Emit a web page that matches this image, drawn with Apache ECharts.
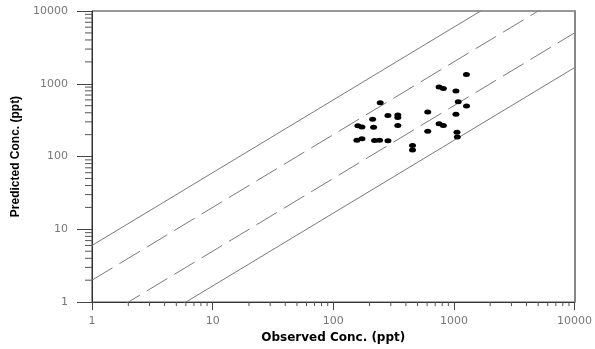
<!DOCTYPE html>
<html>
<head>
<meta charset="utf-8">
<script src="https://cdn.jsdelivr.net/npm/echarts@6/dist/echarts.min.js"></script>
<style>
  html, body { margin: 0; padding: 0; background: #fff; }
  #chart { width: 595px; height: 349px; }
</style>
</head>
<body>
<div id="chart"></div>
<script>
// observed vs predicted concentrations (ppt)
const observed = [245, 284, 343, 343, 212, 343, 160, 173, 216, 157, 173, 220, 242, 284, 454, 454,
                  1270, 754, 818, 1040, 1087, 1273, 607, 1040, 754, 818, 607, 1061, 1068];
const predicted = [548, 366, 373, 344, 326, 268, 265, 254, 252, 168, 175, 166, 168, 165, 142, 123,
                   1340, 900, 864, 797, 566, 494, 409, 381, 282, 268, 222, 216, 185];
// factor-of-6 (solid) and factor-of-2 (dashed) reference lines
const solidFactors = [6, 1 / 6];
const dashedFactors = [2, 0.5];
const axisRange = [1, 10000];
const minorTicks = [2, 3, 4, 5, 6, 7, 8, 9, 20, 30, 40, 50, 60, 70, 80, 90,
                    200, 300, 400, 500, 600, 700, 800, 900, 2000, 3000, 4000, 5000, 6000, 7000, 8000, 9000];

const chart = echarts.init(document.getElementById('chart'));

const ratioLine = (k, dashed) => ({
  type: 'line',
  data: [[axisRange[0], axisRange[0] * k], [axisRange[1], axisRange[1] * k]],
  symbol: 'none',
  silent: true,
  clip: true,
  lineStyle: { color: '#7a7a7a', width: 1, type: dashed ? [24, 8] : 'solid' },
  z: 1
});

const labelStyle = { color: '#777', fontFamily: 'DejaVu Sans', fontSize: 11 };

chart.setOption({
  animation: false,
  grid: { left: 92, right: 18, top: 11, bottom: 42, show: true, borderColor: '#333', borderWidth: 1 },
  xAxis: [{
    type: 'log', logBase: 10, min: axisRange[0], max: axisRange[1],
    name: 'Observed Conc. (ppt)', nameLocation: 'middle', nameGap: 21,
    nameTextStyle: { color: '#000', fontFamily: 'DejaVu Sans', fontWeight: 'bold', fontSize: 12 },
    axisLine: { lineStyle: { color: '#333', width: 1 } },
    axisTick: { length: 8, lineStyle: { color: '#444' } },
    axisLabel: Object.assign({ margin: 14, formatter: v => String(Math.round(v)) }, labelStyle),
    splitLine: { show: false }
  }],
  yAxis: [{
    type: 'log', logBase: 10, min: axisRange[0], max: axisRange[1],
    name: 'Predicted Conc. (ppt)', nameLocation: 'middle', nameGap: 60, nameRotate: 90,
    nameTextStyle: { color: '#000', fontFamily: 'Liberation Sans', fontWeight: 'bold', fontSize: 12 },
    axisLine: { lineStyle: { color: '#333', width: 1 } },
    axisTick: { length: 15, lineStyle: { color: '#444' } },
    axisLabel: Object.assign({ margin: 24, formatter: v => String(Math.round(v)) }, labelStyle),
    splitLine: { show: false }
  }, {
    type: 'log', logBase: 10, min: axisRange[0], max: axisRange[1], position: 'right',
    axisLine: { show: true, lineStyle: { color: '#888', width: 2 } },
    axisTick: { show: false }, axisLabel: { show: false }, splitLine: { show: false }
  }],
  series: [
    ratioLine(solidFactors[0], false),
    ratioLine(solidFactors[1], false),
    ratioLine(dashedFactors[0], true),
    ratioLine(dashedFactors[1], true),
    {
      type: 'scatter',
      data: observed.map((x, i) => [x, predicted[i]]),
      symbol: 'circle',
      symbolSize: [7, 5],
      itemStyle: { color: '#000', opacity: 1 },
      z: 3
    },
    {
      // minor ticks on the y axis
      type: 'custom',
      silent: true,
      clip: false,
      data: minorTicks.map(v => [axisRange[0], v]),
      renderItem: (params, api) => {
        const p = api.coord([api.value(0), api.value(1)]);
        return { type: 'line', shape: { x1: p[0] - 7, y1: p[1], x2: p[0], y2: p[1] }, style: { stroke: '#555', lineWidth: 1 } };
      }
    },
    {
      // minor ticks on the x axis
      type: 'custom',
      silent: true,
      clip: false,
      data: minorTicks.map(v => [v, axisRange[0]]),
      renderItem: (params, api) => {
        const p = api.coord([api.value(0), api.value(1)]);
        return { type: 'line', shape: { x1: p[0], y1: p[1], x2: p[0], y2: p[1] + 4 }, style: { stroke: '#555', lineWidth: 1 } };
      }
    }
  ]
});
</script>
</body>
</html>
